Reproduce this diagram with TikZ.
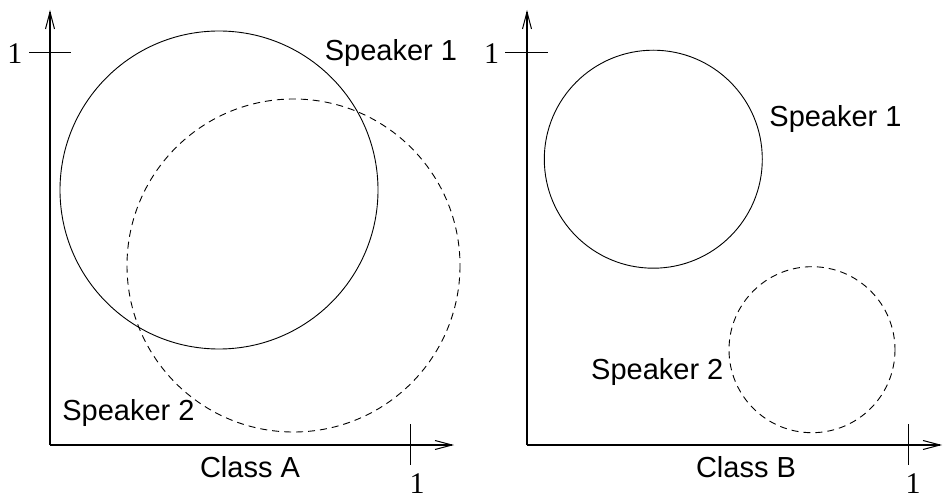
\documentclass[tikz,border=0pt]{standalone}
\usepackage{fontspec}
\setmainfont{Liberation Serif}
\setsansfont{Liberation Sans}
\usetikzlibrary{arrows.meta}
\begin{document}
\begin{tikzpicture}[x=1pt,y=-1pt,
  axis/.style={line width=1.1pt,-{Straight Barb[length=17pt,width=9pt,line width=1pt]}},
  tick/.style={line width=1pt},
  solidc/.style={line width=0.9pt},
  dashc/.style={line width=0.9pt,dash pattern=on 7pt off 5pt},
  lbl/.style={font=\sffamily\fontsize{29}{30}\selectfont,inner sep=0pt},
  num/.style={font=\rmfamily\fontsize{30}{31}\selectfont,inner sep=0pt}]
\useasboundingbox (0,0) rectangle (943,497);
% left panel
\coordinate (oA) at (50,445);
\coordinate (yA) at (50,10);
\coordinate (xA) at (454,445);
\draw[axis] (oA) -- (yA);
\draw[axis] (oA) -- (xA);
\coordinate (tyA1) at (29,53); \coordinate (tyA2) at (71,53);
\coordinate (txA1) at (410,424); \coordinate (txA2) at (410,465);
\draw[tick] (tyA1) -- (tyA2);
\draw[tick] (txA1) -- (txA2);
\node[num] (oneyA) at (15,54) {1};
\node[num] (onexA) at (417,484) {1};
\node[lbl] (classA) at (250,467) {Class A};
\draw[solidc] (219,190) circle[radius=159];
\draw[dashc] (293.5,265.5) circle[radius=166.5];
\node[lbl] (s1A) at (391,53) {Speaker 1};
\node[lbl] (s2A) at (128.5,413) {Speaker 2};
% right panel
\coordinate (oB) at (527,445);
\coordinate (yB) at (527,10);
\coordinate (xB) at (942,445);
\draw[axis] (oB) -- (yB);
\draw[axis] (oB) -- (xB);
\coordinate (tyB1) at (505,53); \coordinate (tyB2) at (548,53);
\coordinate (txB1) at (908,424); \coordinate (txB2) at (908,465);
\draw[tick] (tyB1) -- (tyB2);
\draw[tick] (txB1) -- (txB2);
\node[num] (oneyB) at (491.5,54) {1};
\node[num] (onexB) at (913,484) {1};
\node[lbl] (classB) at (746,467) {Class B};
\draw[solidc] (653.3,159.2) circle[radius=109];
\draw[dashc] (812,349.7) circle[radius=83];
\node[lbl] (s1B) at (835.5,119) {Speaker 1};
\node[lbl] (s2B) at (657.3,372) {Speaker 2};
\end{tikzpicture}
\end{document}
